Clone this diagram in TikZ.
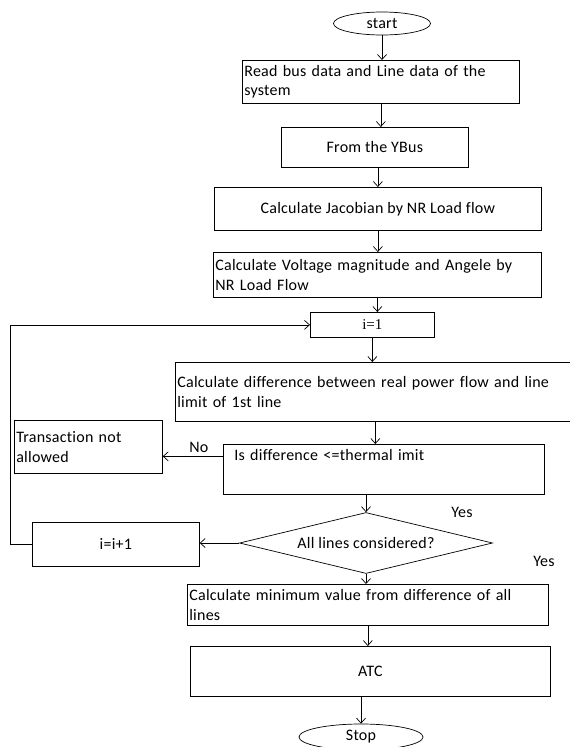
\documentclass[tikz,border=0pt]{standalone}
\usepackage{fontspec}
\setmainfont{Carlito}[Ligatures=NoCommon, LetterSpace=1.5]
\newfontfamily\timesfont{Liberation Serif}
\usetikzlibrary{shapes.geometric, arrows.meta, positioning}

\begin{document}
\begin{tikzpicture}[x=1pt, y=-1pt,
    line width=0.7pt,
    every node/.style={font=\fontsize{16}{19.5}\selectfont},
    procbox/.style={draw, rectangle, anchor=north west, inner xsep=2pt, inner ysep=2pt},
    termnode/.style={draw, ellipse, inner sep=0pt},
    decision/.style={draw, diamond, inner sep=0pt, aspect=4.15},
    flow/.style={-{Straight Barb[length=5pt, width=9pt]}}
  ]
\useasboundingbox (0,0) rectangle (570,747);

% Terminals
\node[termnode, minimum width=97pt, minimum height=23pt] (start) at (382,23.5) {start};
\node[termnode, minimum width=124pt, minimum height=26pt] (stop) at (361,737) {Stop};

% Main column of process boxes
\node[procbox, minimum width=277pt, minimum height=43pt, text width=273pt, align=left] (read) at (242,60)
  {Read bus data and Line data of the\\system};
\node[procbox, minimum width=187pt, minimum height=40pt, align=center] (ybus) at (281,127) {From the YBus};
\node[procbox, minimum width=327pt, minimum height=43pt, align=center] (jac) at (214,187)
  {Calculate Jacobian by NR Load flow};
\node[procbox, minimum width=328pt, minimum height=45pt, text width=324pt, align=left] (volt) at (213,252)
  {Calculate Voltage magnitude and Angele by\\NR Load Flow};
\node[procbox, minimum width=124pt, minimum height=25pt, font=\timesfont\fontsize{15}{18}\selectfont] (i1) at (310,312) {i=1};
\node[procbox, minimum width=400pt, minimum height=59pt, text width=396pt, align=left] (diff) at (175,362)
  {Calculate difference between real power flow and line\\limit of 1st line};
\node[procbox, minimum width=321pt, text width=317pt, text height=14pt, text depth=32pt, align=left] (thermal) at (223,444)
  {\hspace*{9pt}Is difference <=thermal imit};
\node[procbox, minimum width=148pt, minimum height=53pt, text width=144pt, align=left] (trans) at (14,420)
  {Transaction not\\allowed};

% Decision and loop counter
\node[decision, minimum width=253pt, minimum height=61pt] (diam) at (366,543) {All lines considered?};
\node[procbox, minimum width=167pt, minimum height=44pt, align=center] (ii) at (32,522) {i=i+1};

% Final boxes
\node[procbox, minimum width=361pt, minimum height=41pt, text width=357pt, align=left] (min) at (187,584)
  {Calculate minimum value from difference of all\\lines};
\node[procbox, minimum width=360pt, minimum height=50pt, align=center] (atc) at (190,646) {ATC};

% Yes labels
\node (yes1) at (462,512) {Yes};
\node (yes2) at (544,561) {Yes};

% Flow arrows
\draw[flow] (start.south) -- (start.south |- read.north);
\draw[flow] (read.south) -- (read.south |- ybus.north);
\draw[flow] (jac.north |- ybus.south) -- (jac.north);
\draw[flow] (jac.south) -- (jac.south |- volt.north);
\draw[flow] (volt.south) -- (volt.south |- i1.north);
\draw[flow] (i1.south) -- (i1.south |- diff.north);
\draw[flow] (diff.south) -- (diff.south |- thermal.north);
\draw[flow] ([yshift=4pt]thermal.base west) -- ([yshift=4pt]thermal.base west -| trans.east)
  node[pos=0.4, above] (no) {No};
\draw[flow] (diam.north |- thermal.south) -- (diam.north);
\draw[flow] (diam.west) -- (diam.west -| ii.east);
\draw[flow] (diam.south) -- (diam.south |- min.north);
\draw[flow] (min.south) -- (min.south |- atc.north);
\draw[flow] (stop.north |- atc.south) -- (stop.north);

% Loop back to i=1
\coordinate (loopx) at (10,0);
\draw[flow] (ii.west) -- (ii.west -| loopx) |- (i1.west);

\end{tikzpicture}
\end{document}
